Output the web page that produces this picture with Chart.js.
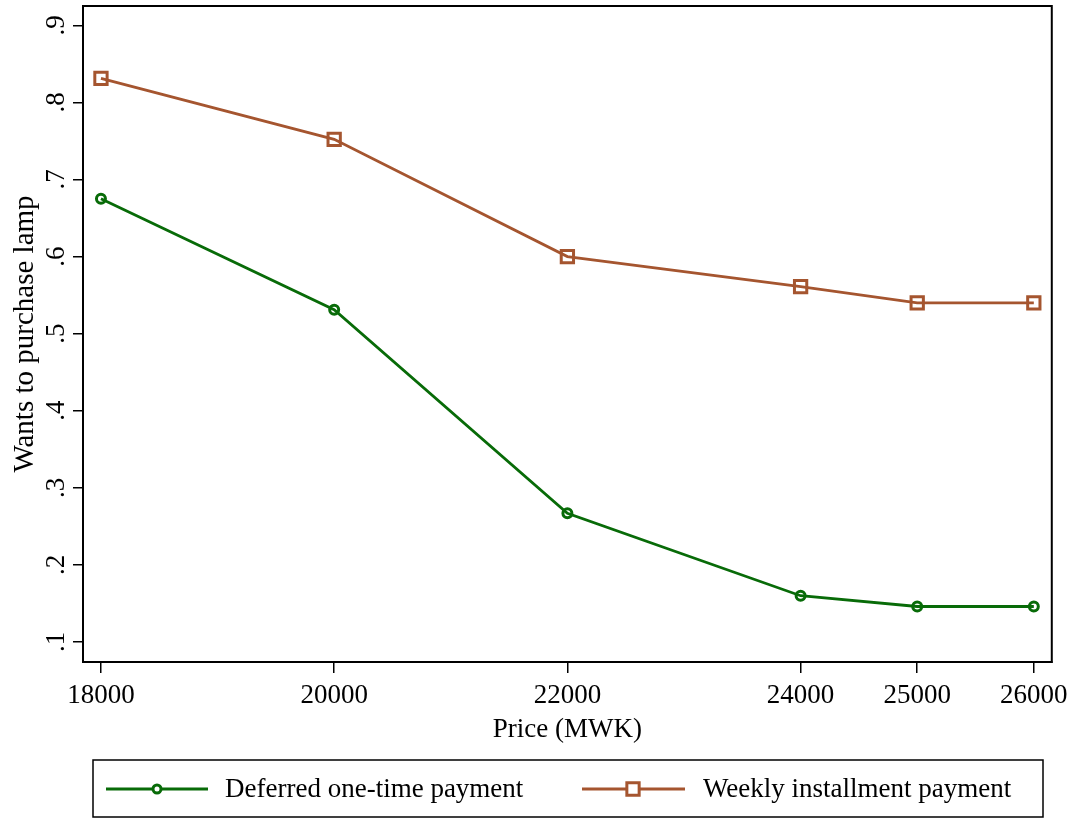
<!DOCTYPE html>
<html>
<head>
<meta charset="utf-8">
<script src="https://cdn.jsdelivr.net/npm/chart.js@4"></script>
<style>
  html, body { margin: 0; padding: 0; background: #fff; }
  #wrap { width: 1075px; height: 819px; }
</style>
</head>
<body>
<div id="wrap"><canvas id="price-chart" width="1075" height="819"></canvas></div>
<script>
// dados
const prices = [18000, 20000, 22000, 24000, 25000, 26000];
const deferredValues = [0.675, 0.531, 0.267, 0.160, 0.146, 0.146];
const weeklyValues = [0.831, 0.752, 0.600, 0.561, 0.540, 0.540];
const yTicks = [0.1, 0.2, 0.3, 0.4, 0.5, 0.6, 0.7, 0.8, 0.9];
const yTickLabels = ['.1', '.2', '.3', '.4', '.5', '.6', '.7', '.8', '.9'];
const seriesNames = ['Deferred one-time payment', 'Weekly installment payment'];

const GREEN = '#086b08';
const SIENNA = '#a5552f';
const FONT = '"Liberation Serif", "Times New Roman", serif';

// caixa do gráfico, rótulos do eixo y e legenda
const stataPlugin = {
    id: 'stata',
    afterDraw(chart) {
        const ctx = chart.ctx;
        const a = chart.chartArea;
        const y = chart.scales.y;
        ctx.save();
        ctx.strokeStyle = '#000';
        ctx.lineWidth = 2;
        ctx.strokeRect(a.left, a.top, a.right - a.left, a.bottom - a.top);

        ctx.fillStyle = '#000';
        ctx.font = '27px ' + FONT;
        ctx.textAlign = 'center';
        ctx.textBaseline = 'middle';
        yTicks.forEach((v, i) => {
            ctx.save();
            ctx.translate(57, y.getPixelForValue(v));
            ctx.rotate(-Math.PI / 2);
            ctx.fillText(yTickLabels[i], 0, 0);
            ctx.restore();
        });

        // legenda
        ctx.lineWidth = 1.5;
        ctx.strokeRect(93, 760, 950, 57);
        const items = [
            { x0: 106, x1: 208, mx: 157, tx: 225 },
            { x0: 582, x1: 685, mx: 633, tx: 703 }
        ];
        chart.data.datasets.forEach((ds, i) => {
            const it = items[i];
            const ly = 789;
            ctx.strokeStyle = ds.borderColor;
            ctx.lineWidth = 2.8;
            ctx.beginPath();
            ctx.moveTo(it.x0, ly);
            ctx.lineTo(it.x1, ly);
            ctx.stroke();
            ctx.lineWidth = ds.pointBorderWidth;
            ctx.fillStyle = '#fff';
            ctx.beginPath();
            if (ds.pointStyle === 'rect') {
                const s = ds.pointRadius * Math.SQRT1_2;
                ctx.rect(it.mx - s, ly - s, 2 * s, 2 * s);
            } else {
                ctx.arc(it.mx, ly, ds.pointRadius - 0.5, 0, Math.PI * 2);
            }
            ctx.fill();
            ctx.stroke();
            ctx.fillStyle = '#000';
            ctx.textAlign = 'left';
            ctx.fillText(ds.label, it.tx, ly + 1);
        });
        ctx.restore();
    }
};

const canvas = document.getElementById('price-chart');
if (canvas) {
    const ctx = canvas.getContext('2d');
    const priceChart = new Chart(ctx, {
        type: 'line',
        data: {
            datasets: [{
                label: seriesNames[0],
                data: prices.map((p, i) => ({ x: p, y: deferredValues[i] })),
                borderColor: GREEN,
                borderWidth: 2.8,
                pointStyle: 'circle',
                pointRadius: 4.5,
                pointBorderWidth: 3,
                pointBorderColor: GREEN,
                pointBackgroundColor: 'rgba(255,255,255,0)',
                tension: 0
            }, {
                label: seriesNames[1],
                data: prices.map((p, i) => ({ x: p, y: weeklyValues[i] })),
                borderColor: SIENNA,
                borderWidth: 2.8,
                pointStyle: 'rect',
                pointRadius: 8.7,
                pointBorderWidth: 3,
                pointBorderColor: SIENNA,
                pointBackgroundColor: 'rgba(255,255,255,0)',
                tension: 0
            }]
        },
        options: {
            responsive: false,
            animation: false,
            layout: { autoPadding: false, padding: { left: 0, top: 6, right: 23, bottom: 73 } },
            plugins: {
                legend: { display: false },
                tooltip: { enabled: false }
            },
            scales: {
                x: {
                    type: 'linear',
                    min: 17846,
                    max: 26154,
                    afterBuildTicks: (s) => { s.ticks = prices.map(v => ({ value: v })); },
                    afterFit: (s) => { s.height = 84; },
                    grid: {
                        display: true, drawOnChartArea: false, drawTicks: true,
                        tickLength: 11, color: '#000', lineWidth: 1.5
                    },
                    border: { display: true, color: '#000', width: 2 },
                    ticks: {
                        color: '#000', padding: 7, maxRotation: 0,
                        font: { family: FONT, size: 27 },
                        callback: (v) => String(v)
                    },
                    title: {
                        display: true, text: 'Price (MWK)', color: '#000',
                        font: { family: FONT, size: 27 }, padding: { top: 0, bottom: 0 }
                    }
                },
                y: {
                    type: 'linear',
                    min: 0.074,
                    max: 0.925,
                    afterBuildTicks: (s) => { s.ticks = yTicks.map(v => ({ value: v })); },
                    afterFit: (s) => { s.width = 83; },
                    grid: {
                        display: true, drawOnChartArea: false, drawTicks: true,
                        tickLength: 10, color: '#000', lineWidth: 1.5
                    },
                    border: { display: true, color: '#000', width: 2 },
                    ticks: { display: false },
                    title: {
                        display: true, text: 'Wants to purchase lamp', color: '#000',
                        font: { family: FONT, size: 29 }, padding: { top: 8, bottom: 0 }
                    }
                }
            }
        },
        plugins: [stataPlugin]
    });
} else {
    console.error("Canvas não encontrado.");
}
</script>
</body>
</html>
